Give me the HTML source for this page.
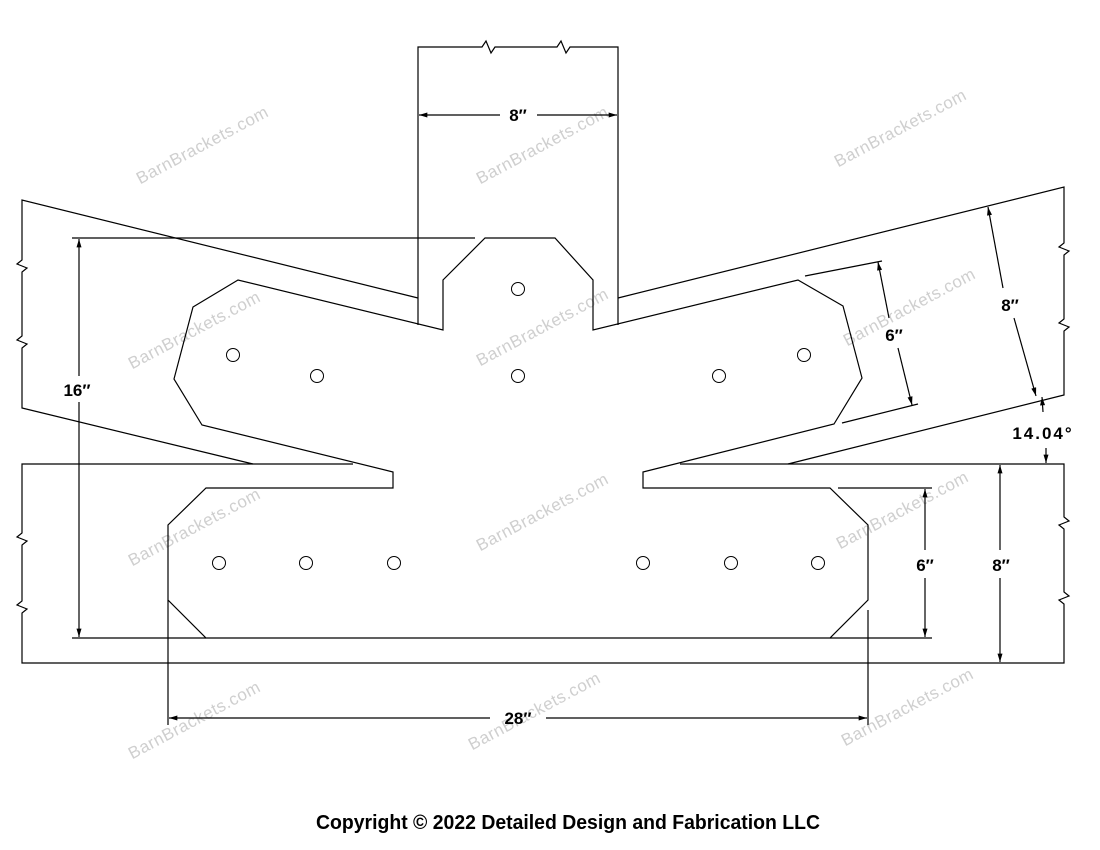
<!DOCTYPE html>
<html><head><meta charset="utf-8"><style>html,body{margin:0;padding:0;background:#fff}svg{display:block}</style></head>
<body>
<svg width="1100" height="850" viewBox="0 0 1100 850" xmlns="http://www.w3.org/2000/svg">
<defs>
<marker id="a" viewBox="0 0 10 6" refX="10" refY="3" markerWidth="10" markerHeight="5" markerUnits="userSpaceOnUse" orient="auto"><path d="M0,0 L10,3 L0,6 z" fill="#000"/></marker>
</defs>
<g fill="#cfcfcf" font-family="Liberation Sans, sans-serif" font-size="17" text-anchor="middle" letter-spacing="0.5">
<text transform="translate(205,150) rotate(-28)">BarnBrackets.com</text>
<text transform="translate(545,150) rotate(-28)">BarnBrackets.com</text>
<text transform="translate(903,133) rotate(-28)">BarnBrackets.com</text>
<text transform="translate(197,335) rotate(-28)">BarnBrackets.com</text>
<text transform="translate(545,332) rotate(-28)">BarnBrackets.com</text>
<text transform="translate(912,312) rotate(-28)">BarnBrackets.com</text>
<text transform="translate(197,532) rotate(-28)">BarnBrackets.com</text>
<text transform="translate(545,517) rotate(-28)">BarnBrackets.com</text>
<text transform="translate(905,515) rotate(-28)">BarnBrackets.com</text>
<text transform="translate(197,725) rotate(-28)">BarnBrackets.com</text>
<text transform="translate(537,716) rotate(-28)">BarnBrackets.com</text>
<text transform="translate(910,712) rotate(-28)">BarnBrackets.com</text>
</g>
<g fill="none" stroke="#000" stroke-width="1.2">
<polyline points="418,325 418,47 482,47 486,41 491,53 495,47 557,47 561,41 566,53 570,47 618,47 618,325"/>
<polyline points="418,298 22,200 22,260 17,264 27,268 22,272 22,336 17,340 27,344 22,348 22,408 253,464"/>
<polyline points="618,298 1064,187 1064,243 1059,247 1069,251 1064,255 1064,319 1059,323 1069,327 1064,331 1064,395 788,464"/>
<polyline points="353,464 22,464 22,533 17,537 27,541 22,545 22,601 17,605 27,609 22,613 22,663 1064,663 1064,604 1059,600 1069,596 1064,592 1064,529 1059,525 1069,521 1064,517 1064,464 680,464"/>
<polygon points="485,238 555,238 593,280 593,330 798,280 843,306 862,378 834,424 643,472 643,488 830,488 868,525 868,600 830,638 206,638 168,600 168,525 206,488 393,488 393,472 202,425 174,379 193,307 238,280 443,330 443,280"/>
<g stroke-width="1">
<circle cx="518" cy="289" r="6.5"/><circle cx="233" cy="355" r="6.5"/><circle cx="317" cy="376" r="6.5"/><circle cx="518" cy="376" r="6.5"/><circle cx="719" cy="376" r="6.5"/><circle cx="804" cy="355" r="6.5"/>
<circle cx="219" cy="563" r="6.5"/><circle cx="306" cy="563" r="6.5"/><circle cx="394" cy="563" r="6.5"/><circle cx="643" cy="563" r="6.5"/><circle cx="731" cy="563" r="6.5"/><circle cx="818" cy="563" r="6.5"/>
</g>
<line x1="72" y1="238" x2="475" y2="238"/>
<line x1="72" y1="638" x2="206" y2="638"/>
<line x1="830" y1="638" x2="932" y2="638"/>
<line x1="838" y1="488" x2="932" y2="488"/>
<line x1="168" y1="600" x2="168" y2="725"/>
<line x1="868" y1="610" x2="868" y2="725"/>
<line x1="805" y1="276" x2="882" y2="261"/>
<line x1="842" y1="423" x2="918" y2="404"/>
</g>
<g stroke="#000" stroke-width="1.2" fill="none">
<line x1="500" y1="115" x2="419" y2="115" marker-end="url(#a)"/>
<line x1="537" y1="115" x2="617" y2="115" marker-end="url(#a)"/>
<line x1="79" y1="376" x2="79" y2="239" marker-end="url(#a)"/>
<line x1="79" y1="402" x2="79" y2="637" marker-end="url(#a)"/>
<line x1="490" y1="718" x2="169" y2="718" marker-end="url(#a)"/>
<line x1="546" y1="718" x2="867" y2="718" marker-end="url(#a)"/>
<line x1="925" y1="550" x2="925" y2="489" marker-end="url(#a)"/>
<line x1="925" y1="578" x2="925" y2="637" marker-end="url(#a)"/>
<line x1="1000" y1="550" x2="1000" y2="465" marker-end="url(#a)"/>
<line x1="1000" y1="578" x2="1000" y2="662" marker-end="url(#a)"/>
<line x1="889" y1="318" x2="878" y2="262" marker-end="url(#a)"/>
<line x1="898" y1="348" x2="912" y2="405" marker-end="url(#a)"/>
<line x1="1003" y1="288" x2="988" y2="207" marker-end="url(#a)"/>
<line x1="1014" y1="318" x2="1036" y2="396" marker-end="url(#a)"/>
<line x1="1043" y1="412" x2="1042" y2="397" marker-end="url(#a)"/>
<line x1="1046" y1="448" x2="1046" y2="463" marker-end="url(#a)"/>
</g>
<g font-family="Liberation Sans, sans-serif" font-size="17" font-weight="bold" fill="#000" text-anchor="middle">
<text x="518" y="121">8″</text>
<text x="77" y="396">16″</text>
<text x="518" y="724">28″</text>
<text x="925" y="571">6″</text>
<text x="1001" y="571">8″</text>
<text x="894" y="341">6″</text>
<text x="1010" y="311">8″</text>
<text x="1043" y="439" letter-spacing="2">14.04°</text>
</g>
<text x="316" y="829" font-family="Liberation Sans, sans-serif" font-size="20" font-weight="bold" textLength="504" lengthAdjust="spacingAndGlyphs" fill="#000">Copyright © 2022 Detailed Design and Fabrication LLC</text>
</svg>
</body></html>
